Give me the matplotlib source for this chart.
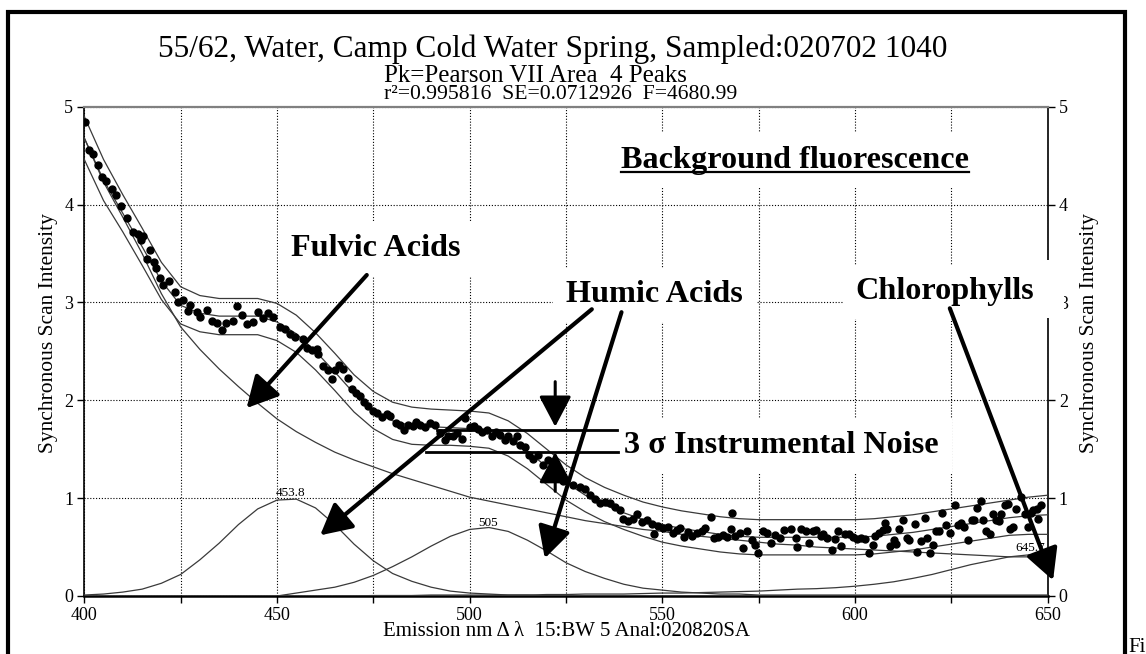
import matplotlib
matplotlib.use('Agg')
import matplotlib.pyplot as plt
from matplotlib.lines import Line2D
from matplotlib.patches import Rectangle

plt.rcParams['font.family'] = ['Liberation Serif', 'DejaVu Serif']
nan = float('nan')

# fitted curves, sampled every 5 nm from 400 to 650
wl = list(range(400, 655, 5))

fit = [4.68, 4.25, 3.91, 3.57, 3.22, 2.97, 2.89, 2.86, 2.86, 2.86,
       2.80, 2.68, 2.50, 2.29, 2.07, 1.90, 1.79, 1.74, 1.73, 1.72,
       1.71, 1.69, 1.61, 1.48, 1.32, 1.16, 1.03, 0.93, 0.85, 0.78,
       0.73, 0.69, 0.66, 0.63, 0.61, 0.60, 0.60, 0.60, 0.60, 0.60,
       0.60, 0.61, 0.63, 0.65, 0.68, 0.71, 0.74, 0.77, 0.80, 0.82, 0.83]
upper = [4.90, 4.46, 4.10, 3.76, 3.41, 3.16, 3.07, 3.04, 3.04, 3.04,
         2.99, 2.87, 2.69, 2.48, 2.26, 2.09, 1.98, 1.93, 1.91, 1.90,
         1.89, 1.87, 1.79, 1.66, 1.50, 1.34, 1.21, 1.11, 1.03, 0.96,
         0.91, 0.87, 0.84, 0.81, 0.79, 0.78, 0.78, 0.78, 0.78, 0.78,
         0.78, 0.79, 0.81, 0.83, 0.86, 0.89, 0.92, 0.95, 0.98, 1.01, 1.03]
lower = [4.46, 4.04, 3.72, 3.38, 3.03, 2.78, 2.70, 2.67, 2.67, 2.67,
         2.61, 2.49, 2.31, 2.10, 1.88, 1.71, 1.60, 1.55, 1.54, 1.54,
         1.53, 1.51, 1.43, 1.30, 1.14, 0.98, 0.86, 0.76, 0.68, 0.61,
         0.55, 0.51, 0.48, 0.45, 0.43, 0.42, 0.42, 0.42, 0.42, 0.42,
         0.42, 0.43, 0.45, 0.47, 0.50, 0.53, 0.56, 0.59, 0.62, 0.63, 0.63]
background = [4.68, 4.23, 3.87, 3.50, 3.09, 2.75, 2.52, 2.32, 2.14, 1.97,
              1.81, 1.68, 1.57, 1.47, 1.39, 1.32, 1.25, 1.19, 1.13, 1.07,
              1.01, 0.97, 0.93, 0.89, 0.85, 0.81, 0.77, 0.74, 0.71, 0.68,
              0.66, 0.63, 0.61, 0.59, 0.57, 0.55, 0.53, 0.52, 0.50, 0.49,
              0.48, 0.47, 0.46, 0.45, 0.44, 0.43, 0.42, 0.41, 0.40, 0.40, 0.39]
peak_454 = [0.01, 0.02, 0.04, 0.07, 0.13, 0.22, 0.37, 0.54, 0.73, 0.89,
            0.98, 0.99, 0.90, 0.73, 0.53, 0.36, 0.23, 0.15, 0.09, 0.05,
            0.03, 0.02, 0.01, 0.01, 0.00, 0.00, 0.00, 0.00, 0.00, 0.00,
            0.00, 0.00, 0.00, 0.00, 0.00, 0.00, 0.00, 0.00, 0.00, 0.00,
            0.00, 0.00, 0.00, 0.00, 0.00, 0.00, 0.00, 0.00, 0.00, 0.00, 0.00]
peak_505 = [nan, nan, nan, nan, nan, nan, nan, nan, nan, nan,
            0.00, 0.03, 0.06, 0.09, 0.14, 0.21, 0.30, 0.40, 0.51, 0.61,
            0.68, 0.70, 0.66, 0.57, 0.46, 0.34, 0.25, 0.18, 0.12, 0.08,
            0.06, 0.04, 0.03, 0.02, 0.02, 0.01, 0.01, 0.01, 0.01, 0.01,
            0.01, 0.01, 0.01, 0.01, 0.01, 0.01, 0.01, 0.01, 0.01, 0.01, 0.01]
peak_646 = [nan, nan, nan, nan, nan, nan, nan, nan, nan, nan,
            nan, nan, nan, 0.00, 0.00, 0.005, 0.005, 0.005, 0.01, 0.01,
            0.01, 0.01, 0.01, 0.01, 0.015, 0.015, 0.02, 0.02, 0.02, 0.025,
            0.03, 0.03, 0.035, 0.04, 0.045, 0.05, 0.06, 0.07, 0.075, 0.085,
            0.10, 0.12, 0.145, 0.18, 0.22, 0.27, 0.32, 0.36, 0.40, 0.42, 0.42]

# measured synchronous scan points
dot_x = [400.2, 401.3, 402.3, 403.6, 404.5, 405.6, 407.1, 408.2, 409.4, 411.2,
         412.7, 414.0, 414.7, 415.3, 416.2, 417.0, 418.1, 418.6, 419.6, 420.3,
         422.1, 423.5, 424.4, 425.7, 427.0, 427.4, 429.2, 430.0, 431.8, 433.1,
         434.4, 435.7, 436.9, 438.7, 439.6, 440.8, 442.1, 443.9, 445.1, 446.4,
         447.7, 449.0, 450.8, 452.1, 453.4, 454.7, 456.7,
         457.7, 459.0, 460.3, 460.7, 461.9, 463.3, 464.2, 465.1, 466.2, 467.2,
         468.5, 469.4, 470.5, 471.5, 472.6, 473.7, 475.0, 476.0, 477.2, 478.5,
         479.3, 480.9, 481.9, 483.0, 484.1, 485.4, 486.2, 487.1, 488.4, 489.7,
         491.0, 492.3, 493.6, 494.4, 495.7, 496.6, 497.9, 498.8, 500.1, 501.0,
         502.2, 503.1, 504.4, 505.7, 506.8, 507.9, 509.2, 510.0, 511.2, 512.2,
         513.1, 514.3, 515.5, 516.5, 517.8, 519.1, 520.4, 522.6,
         524.3, 526.9, 528.6, 529.9, 531.2, 532.5, 533.8, 535.1, 536.4, 537.7,
         539.0, 539.9, 541.2, 542.4, 543.5, 544.6, 545.9, 547.2, 547.8, 548.9,
         550.2, 551.5, 552.8, 553.7, 554.5, 555.6, 556.7, 557.8, 558.9, 560.2,
         561.2, 562.5, 563.4, 564.5, 565.8, 566.7, 567.7, 568.2, 568.8, 570.1,
         571.0, 571.9, 573.2, 574.0, 574.9, 576.0, 577.1, 578.1, 579.2, 580.5,
         581.5,
         583.5, 584.7, 585.0, 586.1, 587.3, 588.1, 589.0, 590.0, 591.3, 591.7,
         592.8, 593.9, 594.8, 595.6, 596.3, 597.4, 598.5, 599.4, 600.4, 601.5,
         602.6, 603.7, 604.6, 605.2, 606.3, 607.3, 607.8, 608.4, 609.1, 610.1,
         610.6, 611.5, 612.5, 613.4, 614.1, 615.5, 616.1, 617.0, 618.1, 618.7,
         619.4, 620.3, 621.1, 621.8, 622.7, 623.6, 624.6, 625.9, 626.8, 627.6,
         628.2, 629.4, 630.3, 630.8, 631.7, 632.6, 633.1, 634.1, 635.0, 635.8,
         636.6, 637.4, 638.0, 638.9, 639.7, 640.2, 640.9, 641.9, 643.0, 644.1,
         644.9, 645.6, 646.3, 647.2, 647.6, 648.2]
dot_y = [4.84, 4.56, 4.52, 4.40, 4.28, 4.24, 4.16, 4.10, 3.99, 3.86,
         3.72, 3.70, 3.64, 3.68, 3.44, 3.54, 3.41, 3.35, 3.25, 3.18,
         3.22, 3.11, 3.00, 3.02, 2.91, 2.97, 2.90, 2.85, 2.92, 2.81,
         2.79, 2.72, 2.79, 2.81, 2.96, 2.87, 2.78, 2.80, 2.90, 2.84,
         2.89, 2.85, 2.75, 2.73, 2.68, 2.65, 2.63,
         2.53, 2.51, 2.52, 2.47, 2.35, 2.31, 2.22, 2.31, 2.36, 2.32,
         2.23, 2.12, 2.07, 2.04, 1.98, 1.94, 1.89, 1.87, 1.83, 1.86,
         1.84, 1.77, 1.75, 1.70, 1.75, 1.74, 1.78, 1.75, 1.73, 1.77,
         1.75, 1.67, 1.59, 1.63, 1.64, 1.67, 1.60, 1.82, 1.73, 1.74,
         1.71, 1.68, 1.70, 1.63, 1.68, 1.65, 1.59, 1.64, 1.58, 1.63,
         1.54, 1.52, 1.44, 1.40, 1.44, 1.34, 1.39, 1.22,
         1.18, 1.13, 1.11, 1.09, 1.03, 0.99, 0.95, 0.96, 0.95, 0.91,
         0.88, 0.79, 0.77, 0.79, 0.84, 0.76, 0.78, 0.74, 0.63, 0.72,
         0.69, 0.71, 0.64, 0.67, 0.69, 0.60, 0.65, 0.61, 0.64, 0.66,
         0.69, 0.81, 0.59, 0.60, 0.62, 0.60, 0.68, 0.85, 0.61, 0.64,
         0.49, 0.66, 0.57, 0.52, 0.44, 0.66, 0.64, 0.54, 0.62, 0.59,
         0.67,
         0.68, 0.59, 0.50, 0.68, 0.66, 0.54, 0.66, 0.67, 0.61, 0.63,
         0.59, 0.47, 0.58, 0.66, 0.51, 0.63, 0.63, 0.60, 0.58, 0.59,
         0.58, 0.44, 0.52, 0.61, 0.64, 0.67, 0.75, 0.68, 0.51, 0.57,
         0.53, 0.68, 0.78, 0.59, 0.57, 0.74, 0.45, 0.56, 0.80, 0.59,
         0.44, 0.52, 0.66, 0.66, 0.85, 0.73, 0.64, 0.93, 0.73, 0.75,
         0.70, 0.57, 0.78, 0.78, 0.90, 0.97, 0.78, 0.66, 0.63, 0.84,
         0.78, 0.77, 0.84, 0.93, 0.94, 0.68, 0.71, 0.89, 1.01, 0.84,
         0.70, 0.85, 0.88, 0.89, 0.79, 0.93]

fig = plt.figure(figsize=(11.46, 6.54), dpi=100)
ax = fig.add_axes([0.07356, 0.08869, 0.84066, 0.74817])

curve_kw = dict(color='#3a3a3a', lw=0.9, zorder=3)
for c in (upper, fit, lower, background, peak_454, peak_505, peak_646):
    ax.plot(wl, c, **curve_kw)
ax.plot(dot_x, dot_y, 'o', color='black', ms=5, mec='black', zorder=4)

ax.set_xlim(400, 650)
ax.set_ylim(0, 5)
ax.set_xticks(range(400, 651, 50))
ax.set_xticks(range(425, 650, 50), minor=True)
ax.set_yticks(range(0, 6))
ax.grid(True, which='both', color='black', ls=(0, (1, 1.6)), lw=0.8)
ax.tick_params(axis='both', which='both', direction='out', length=5, width=1,
               labelsize=13, pad=3)
ax.tick_params(axis='y', right=True, labelright=True)

for side in ('left', 'right'):
    ax.spines[side].set_linewidth(1.2)
ax.spines['bottom'].set_linewidth(1.8)
ax.spines['top'].set_color('#808080')
ax.spines['top'].set_linewidth(1.6)

# peak labels
pk_kw = dict(fontsize=9.5, ha='center', va='center', zorder=5)
ax.text(453.6, 1.05, '453.8', **pk_kw)
ax.text(504.8, 0.75, '505', **pk_kw)
ax.text(645.4, 0.49, '645.7', clip_on=True, **pk_kw)

# annotations
box = dict(boxstyle='square,pad=0.4', fc='white', ec='none')
lab_kw = dict(fontsize=23.2, fontweight='bold', ha='center', va='baseline',
              bbox=box, zorder=10, clip_on=False)
bg_txt = ax.text(584.3, 4.37, 'Background fluorescence', **lab_kw)
ax.text(475.6, 3.47, 'Fulvic Acids', **lab_kw)
ax.text(547.9, 3.00, 'Humic Acids', **lab_kw)
ax.text(623.3, 3.03, 'Chlorophylls', **lab_kw)
ax.text(581.0, 1.46, '3 σ Instrumental Noise', **lab_kw)
# the Chlorophylls box also hides the right axis near 3
fig.add_artist(Rectangle((1040 / 1146, 1 - 318 / 654), 24 / 1146, 58 / 654,
                         fc='white', ec='none', zorder=9))

def arrow(x0, y0, x1, y1, lw=3.0):
    ax.annotate('', xy=(x1, y1), xytext=(x0, y0), annotation_clip=False,
                zorder=11,
                arrowprops=dict(arrowstyle='-|>,head_length=0.95,head_width=0.5',
                                mutation_scale=20, lw=lw, color='black',
                                shrinkA=0, shrinkB=0))

arrow(473.3, 3.28, 442.1, 1.92)
arrow(531.7, 2.93, 461.2, 0.62)
arrow(539.4, 2.90, 519.5, 0.385)
arrow(624.6, 2.94, 651.4, 0.16)
arrow(522.2, 2.19, 522.2, 1.73, lw=2.2)
arrow(522.2, 1.07, 522.2, 1.47, lw=2.2)
ax.plot([491.4, 538.3], [1.70, 1.70], color='black', lw=2, zorder=11)
ax.plot([488.8, 538.6], [1.475, 1.475], color='black', lw=2, zorder=11)

# underline for the background label
fig.canvas.draw()
bb = bg_txt.get_window_extent()
yb = ax.transData.transform((584.3, 4.37))[1] - 4
inv = fig.transFigure.inverted()
p0 = inv.transform((bb.x0, yb))
p1 = inv.transform((bb.x1, yb))
fig.add_artist(Line2D([p0[0], p1[0]], [p0[1], p1[1]], color='black', lw=1.6,
                      zorder=12))

# titles
fig.text(0.482, 0.925, '55/62, Water, Camp Cold Water Spring, Sampled:020702 1040',
         fontsize=22.5, ha='center', va='center')
fig.text(0.335, 0.884, 'Pk=Pearson VII Area  4 Peaks', fontsize=18,
         ha='left', va='center')
fig.text(0.335, 0.855, 'r²=0.995816  SE=0.0712926  F=4680.99', fontsize=15.6,
         ha='left', va='center')

fig.text(0.0419, 0.4908, 'Synchronous Scan Intensity', rotation=90,
         fontsize=15.5, ha='center', va='center')
fig.text(0.9503, 0.4908, 'Synchronous Scan Intensity', rotation=90,
         fontsize=15.5, ha='center', va='center')
fig.text(0.494, 0.0275, 'Emission nm Δ λ  15:BW 5 Anal:020820SA',
         fontsize=15, ha='center', va='baseline')

# outer frame, open at the bottom
fx0, fx1, fy1 = 8.3 / 1146, 1125 / 1146, 1 - 12 / 654
fig.add_artist(Line2D([fx0, fx0, fx1, fx1], [-0.1, fy1, fy1, -0.1],
                      color='black', lw=3, solid_joinstyle='miter'))
fig.text(1128 / 1146, 1 - 652 / 654, 'Figure', fontsize=15, va='baseline',
         ha='left')

fig.savefig('out.png', dpi=100)
